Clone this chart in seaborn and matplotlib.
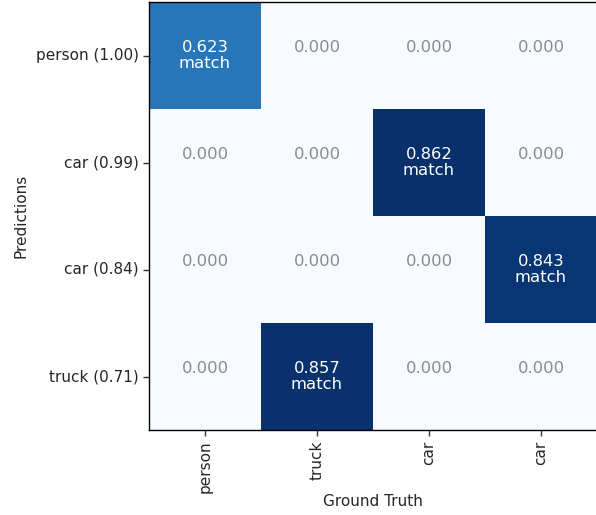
import numpy as np
import pandas as pd
import matplotlib
matplotlib.use("Agg")
import matplotlib.pyplot as plt
import seaborn as sns

pred_labels = ["person (1.00)", "car (0.99)", "car (0.84)", "truck (0.71)"]
gt_labels = ["person", "truck", "car", "car"]
row0 = [0.623, 0.000, 0.000, 0.000]
row1 = [0.000, 0.000, 0.862, 0.000]
row2 = [0.000, 0.000, 0.000, 0.843]
row3 = [0.000, 0.857, 0.000, 0.000]
match_text = "match"

values = np.array([row0, row1, row2, row3])
annot = np.array([[f"{v:.3f}\n{match_text}" if v > 0 else f"{v:.3f}\n " for v in r] for r in values])

fig = plt.figure(figsize=(5.96, 5.15), dpi=100)
ax = fig.add_axes([149/596, 85/515, 448/596, 428/515])
sns.heatmap(values, ax=ax, cmap="Blues", cbar=False, annot=annot, fmt="",
            annot_kws={"fontsize": 11.8, "linespacing": 1.1}, square=False,
            xticklabels=gt_labels, yticklabels=pred_labels)
for t in ax.texts:
    if "match" in t.get_text():
        t.set_color("white")
    else:
        t.set_color("#8a8a8a")
for s in ax.spines.values():
    s.set_visible(True)
    s.set_color("black")
    s.set_linewidth(1.0)
ax.tick_params(axis="both", length=4, width=1, color="#333333", labelsize=11, labelcolor="#262626")
plt.setp(ax.get_xticklabels(), rotation=90)
plt.setp(ax.get_yticklabels(), rotation=0)
ax.set_xlabel("Ground Truth", fontsize=11, color="#262626", labelpad=1)
ax.set_ylabel("Predictions", fontsize=11, color="#262626", labelpad=5)
fig.savefig("out.png", dpi=100)
